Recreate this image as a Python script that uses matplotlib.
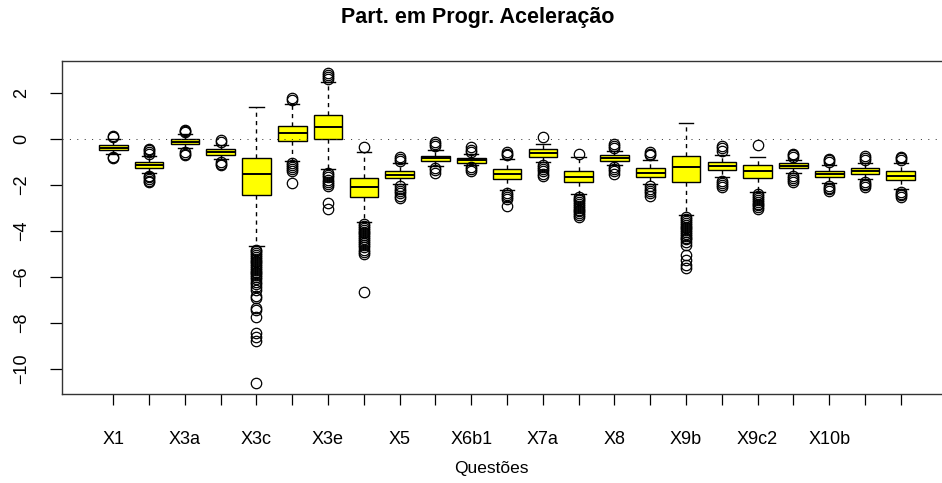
import matplotlib
matplotlib.use('Agg')
import matplotlib.pyplot as plt

plt.rcParams['font.family'] = ['Liberation Sans', 'DejaVu Sans']

# dados (23 questões)
questoes = ['X1', 'X2', 'X3a', 'X3b', 'X3c', 'X3d', 'X3e', 'X4', 'X5', 'X6a', 'X6b1', 'X6b2',
            'X7a', 'X7b', 'X8', 'X9a', 'X9b', 'X9c1', 'X9c2', 'X10a', 'X10b', 'X10c', 'X10d']
# rótulos visíveis no eixo (R omite os que se sobrepõem)
rotulos = ['X1', '', 'X3a', '', 'X3c', '', 'X3e', '', 'X5', '', 'X6b1', '',
           'X7a', '', 'X8', '', 'X9b', '', 'X9c2', '', 'X10b', '', '']

medianas = [-0.37, -1.13, -0.10, -0.55, -1.53, 0.29, 0.55, -2.09, -1.54, -0.83, -0.90, -1.53,
            -0.61, -1.63, -0.80, -1.45, -1.22, -1.16, -1.38, -1.16, -1.51, -1.38, -1.58]
q1 = [-0.47, -1.26, -0.22, -0.67, -2.43, -0.09, 0.01, -2.53, -1.70, -0.96, -1.02, -1.74,
      -0.76, -1.87, -0.93, -1.66, -1.85, -1.34, -1.70, -1.26, -1.66, -1.51, -1.77]
q3 = [-0.26, -1.00, 0.01, -0.44, -0.81, 0.58, 1.06, -1.67, -1.38, -0.71, -0.80, -1.31,
      -0.44, -1.38, -0.68, -1.26, -0.73, -1.00, -1.12, -1.05, -1.38, -1.26, -1.38]
bigode_inf = [-0.62, -1.45, -0.40, -0.85, -4.65, -0.95, -1.30, -3.58, -1.95, -1.15, -1.12, -2.20,
              -1.00, -2.40, -1.10, -1.95, -3.30, -1.65, -2.28, -1.45, -1.90, -1.72, -2.15]
bigode_sup = [0.00, -0.72, 0.22, -0.25, 1.41, 1.55, 2.50, -0.55, -1.05, -0.45, -0.65, -0.85,
              -0.20, -0.78, -0.50, -0.90, 0.72, -0.70, -0.76, -0.88, -1.12, -1.05, -1.05]

outliers = [
    [0.10, 0.14, -0.76, -0.80],
    [-0.42, -0.48, -0.55, -0.62, -1.58, -1.65, -1.72, -1.80, -1.88],
    [0.42, 0.36, 0.30, -0.55, -0.62, -0.70],
    [-0.05, -0.12, -1.00, -1.06, -1.12],
    [-4.80, -4.88, -4.96, -5.04, -5.12, -5.20, -5.28, -5.36, -5.44, -5.52, -5.60, -5.68, -5.76,
     -5.84, -5.92, -6.00, -6.10, -6.20, -6.30, -6.42, -6.57, -6.83, -6.93, -7.36, -7.43, -7.73,
     -8.45, -8.60, -8.77, -10.60],
    [1.80, 1.70, -1.05, -1.12, -1.20, -1.28, -1.36, -1.90],
    [2.62, 2.72, 2.82, 2.90, -1.45, -1.55, -1.65, -1.75, -1.85, -1.95, -2.05, -2.78, -3.05],
    [-0.35, -3.70, -3.78, -3.86, -3.94, -4.02, -4.10, -4.18, -4.26, -4.34, -4.42, -4.50, -4.60,
     -4.70, -4.82, -4.92, -5.00, -6.64],
    [-0.78, -0.86, -0.95, -2.05, -2.15, -2.25, -2.35, -2.45, -2.55],
    [-0.10, -0.20, -0.30, -1.25, -1.35, -1.45],
    [-0.35, -0.45, -0.55, -1.20, -1.30, -1.40],
    [-0.55, -0.62, -0.70, -2.35, -2.42, -2.50, -2.58, -2.90],
    [0.08, -1.10, -1.20, -1.30, -1.40, -1.50, -1.58],
    [-0.62, -2.50, -2.58, -2.66, -2.74, -2.82, -2.90, -2.98, -3.06, -3.14, -3.22, -3.30, -3.38],
    [-0.20, -0.30, -0.40, -1.20, -1.30, -1.40, -1.50],
    [-0.55, -0.62, -0.70, -2.05, -2.15, -2.25, -2.35, -2.45],
    [-3.40, -3.48, -3.56, -3.64, -3.72, -3.80, -3.88, -3.96, -4.04, -4.12, -4.20, -4.28, -4.36,
     -4.45, -4.60, -5.04, -5.26, -5.47, -5.62],
    [-0.30, -0.40, -0.50, -1.82, -1.90, -1.98, -2.06],
    [-0.25, -2.40, -2.48, -2.56, -2.64, -2.72, -2.80, -2.88, -2.96, -3.05],
    [-0.62, -0.70, -0.78, -1.60, -1.68, -1.76, -1.84],
    [-0.85, -0.92, -1.00, -2.02, -2.10, -2.18, -2.26],
    [-0.72, -0.80, -0.88, -1.85, -1.93, -2.01, -2.09],
    [-0.75, -0.82, -0.90, -2.28, -2.36, -2.44, -2.52],
]

stats = []
for i, nome in enumerate(questoes):
    stats.append({'label': nome, 'med': medianas[i], 'q1': q1[i], 'q3': q3[i],
                  'whislo': bigode_inf[i], 'whishi': bigode_sup[i], 'fliers': outliers[i]})

W, H = 942, 483
fig = plt.figure(figsize=(W / 100, H / 100), dpi=100)
# a moldura continua para além da margem direita, como no original
ax = fig.add_axes([62 / W, 1 - 394 / H, 890 / W, 333 / H])

pos = list(range(1, len(questoes) + 1))
ax.bxp(stats, positions=pos, widths=0.8, capwidths=0.4, patch_artist=True,
       boxprops=dict(facecolor='#FFFF00', edgecolor='black', linewidth=1.0),
       medianprops=dict(color='black', linewidth=1.4),
       whiskerprops=dict(color='black', linewidth=1.0, linestyle=(0, (3, 3))),
       capprops=dict(color='black', linewidth=1.0),
       flierprops=dict(marker='o', markerfacecolor='none', markeredgecolor='black',
                       markersize=7.5, markeredgewidth=0.9))

# linha pontilhada em zero
ax.axhline(0, color='#333333', linewidth=0.72, linestyle=(0, (1, 6.4)), zorder=5)

ax.set_xlim(-0.433, 24.43)
ax.set_ylim(-11.09, 3.41)
ax.set_xticks(pos)
ax.set_xticklabels(rotulos)
ax.set_yticks([2, 0, -2, -4, -6, -8, -10])
ax.set_yticklabels(['2', '0', '\u22122', '\u22124', '\u22126', '\u22128', '\u221210'])

ax.tick_params(axis='x', length=8, width=0.9, pad=19, labelsize=13)
ax.tick_params(axis='y', length=9, width=0.9, pad=14, labelsize=13, labelrotation=90)
for lab in ax.get_yticklabels():
    lab.set_va('center')

for s in ax.spines.values():
    s.set_linewidth(1.0)
    s.set_color('#333333')

fig.text(478 / W, 1 - 18 / H, 'Part. em Progr. Aceleração', ha='center', va='center',
         fontsize=15.5, fontweight='bold')
fig.text(491 / W, 1 - 468 / H, 'Questões', ha='center', va='center', fontsize=12.5)

plt.savefig('out.png', dpi=100)
